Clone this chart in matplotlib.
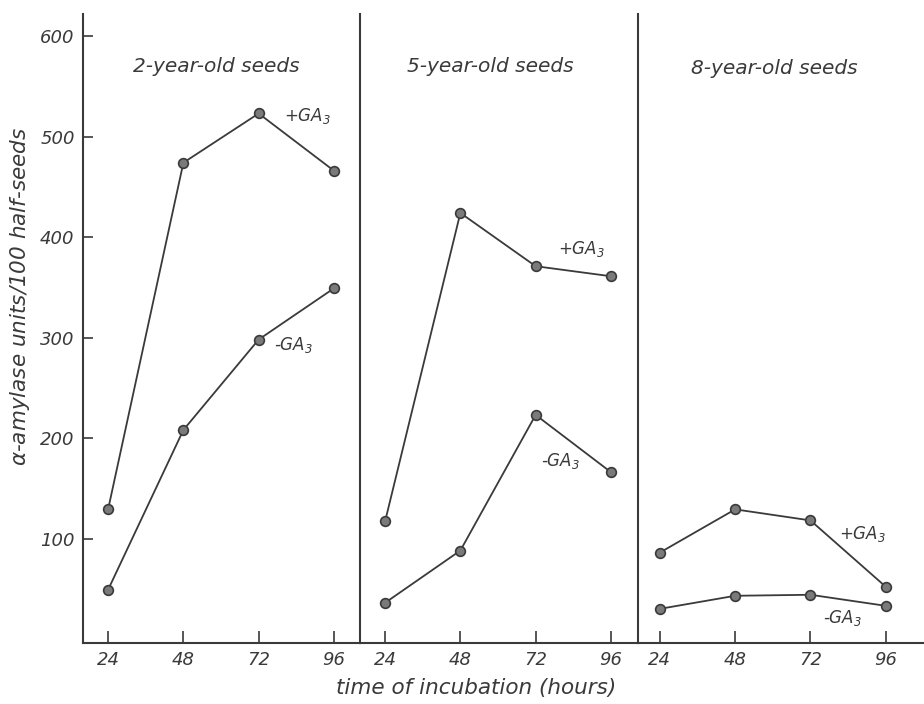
import matplotlib
matplotlib.use('Agg')
import matplotlib.pyplot as plt

# incubation times (hours) and alpha-amylase units / 100 half-seeds
hours = [24, 48, 72, 96]
panel_titles = ['2-year-old seeds', '5-year-old seeds', '8-year-old seeds']

plus_ga3 = [
    [129, 474, 523, 466],   # 2-year-old
    [117, 424, 371, 361],   # 5-year-old
    [86, 129, 118, 52],     # 8-year-old
]
minus_ga3 = [
    [49, 208, 298, 349],
    [36, 88, 223, 166],
    [30, 43, 44, 33],
]

y_ticks = [100, 200, 300, 400, 500, 600]

# label spots (data coords) for each panel: title, +GA3, -GA3
title_pos = [(58.6, 570), (57.6, 570), (60.5, 568)]
plus_pos = [(80, 520), (79, 388), (81, 104)]
minus_pos = [(76.8, 293), (73.6, 177), (76, 21)]
xlims = [(16, 104.3), (16, 104.6), (17, 108.2)]

ink = '#3a3a3a'
plt.rcParams['font.family'] = ['DejaVu Sans']
plt.rcParams['font.style'] = 'italic'

fig, axes = plt.subplots(1, 3, figsize=(9.24, 7.04), dpi=100, sharey=True,
                         gridspec_kw={'width_ratios': [88.3, 88.6, 91.2], 'wspace': 0})
fig.subplots_adjust(left=83/924, right=1.0, bottom=1-643/704, top=1-14/704)

for i, ax in enumerate(axes):
    # transparent background so the next panel doesn't hide the divider
    ax.patch.set_visible(False)
    for vals in (plus_ga3[i], minus_ga3[i]):
        ax.plot(hours, vals, color=ink, lw=1.3, marker='o', ms=7,
                mfc='#7a7a7a', mec=ink, mew=1.2)
    ax.set_xlim(*xlims[i])
    ax.set_ylim(-4, 622)
    ax.set_xticks(hours)
    ax.set_xticklabels([str(h) for h in hours])
    ax.tick_params(axis='x', direction='in', length=9, width=1.2, color=ink,
                   labelsize=13, labelcolor=ink, pad=6)
    ax.spines['top'].set_visible(False)
    ax.spines['left'].set_visible(i == 0)
    ax.spines['right'].set_visible(i < 2)
    for s in ax.spines.values():
        s.set_color(ink)
        s.set_linewidth(1.5)
    ax.text(*title_pos[i], panel_titles[i], ha='center', va='center',
            fontsize=14.5, color=ink)
    ax.text(*plus_pos[i], '+GA$_3$', ha='left', va='center', fontsize=12, color=ink)
    ax.text(*minus_pos[i], '-GA$_3$', ha='left', va='center', fontsize=12, color=ink)
    if i > 0:
        ax.tick_params(axis='y', left=False, labelleft=False)

axes[0].set_yticks(y_ticks)
axes[0].set_yticklabels([str(v) for v in y_ticks])
axes[0].tick_params(axis='y', direction='in', length=7, width=1.2, color=ink,
                    labelsize=13, labelcolor=ink, pad=6)

fig.text(20/924, 1-296/704, r'$\alpha$-amylase units/100 half-seeds', rotation=90,
         ha='center', va='center', fontsize=15.5, color=ink)
fig.text(476/924, 1-688/704, 'time of incubation (hours)', ha='center', va='center',
         fontsize=15.5, color=ink)

plt.savefig('out.png', dpi=100)
plt.close()
